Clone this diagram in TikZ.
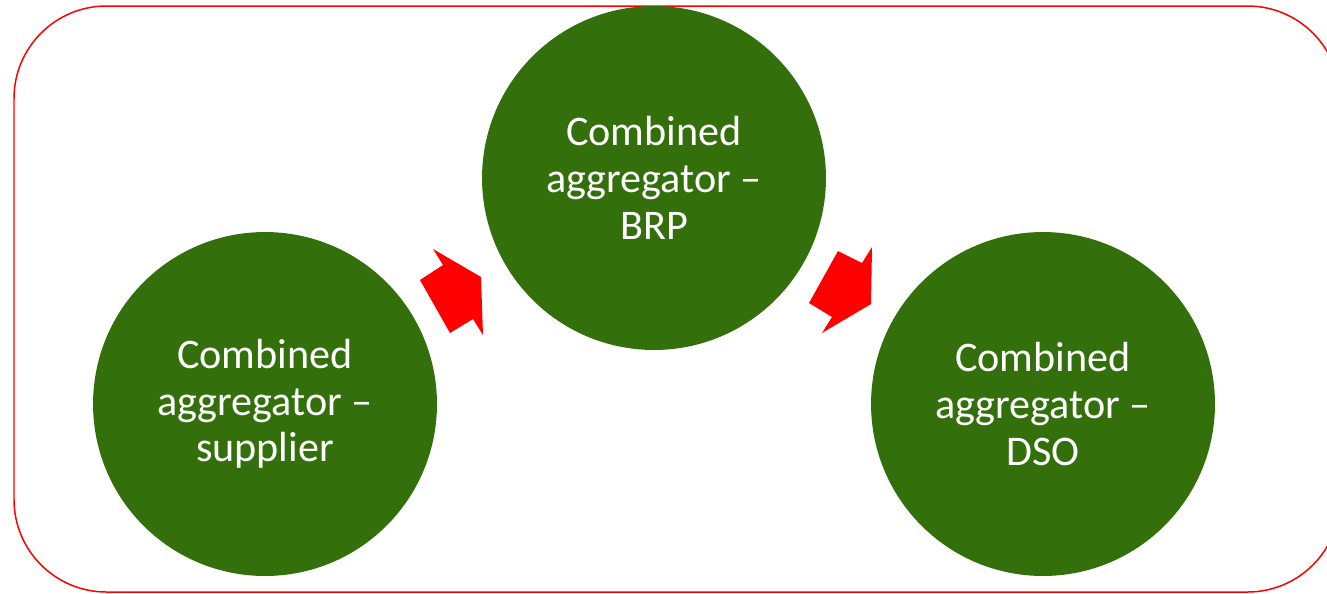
\documentclass[tikz,border=0pt]{standalone}
\usepackage{fontspec}
\setmainfont{Carlito}
\usepackage{xcolor}
\usetikzlibrary{shapes,arrows,positioning}
\definecolor{leafgreen}{RGB}{51,112,11}
\tikzstyle{bubble} = [circle, fill=leafgreen, text=white, minimum size=6.88cm, inner sep=0pt, align=center, font=\fontsize{24}{26.6}\selectfont]
\tikzstyle{blockarrow} = [fill=red, draw=none]

\begin{document}
\begin{tikzpicture}[x=0.02cm, y=-0.02cm]
    \useasboundingbox (0,0) rectangle (1327,593);
    % Frame
    \draw [red, line width=0.85pt, rounded corners=1.85cm] (14,6) rectangle (1340,592);

    % Place nodes
    \node [bubble] (supplier) at (265,404) {Combined\\aggregator --\\supplier};
    \node [bubble] (brp) at (654,178) {Combined\\aggregator --\\BRP};
    \node [bubble] (dso) at (1043,404) {Combined\\aggregator --\\DSO};

    % Arrows between the circles
    \fill [blockarrow] (420,280) -- (443,265) -- (433,249) -- (481,277) -- (483,335) -- (473,319) -- (450,333) -- cycle;
    \fill [blockarrow] (838,251) -- (862,263) -- (872,247) -- (871,304) -- (822,333) -- (832,317) -- (809,303) -- cycle;

\end{tikzpicture}
\end{document}
